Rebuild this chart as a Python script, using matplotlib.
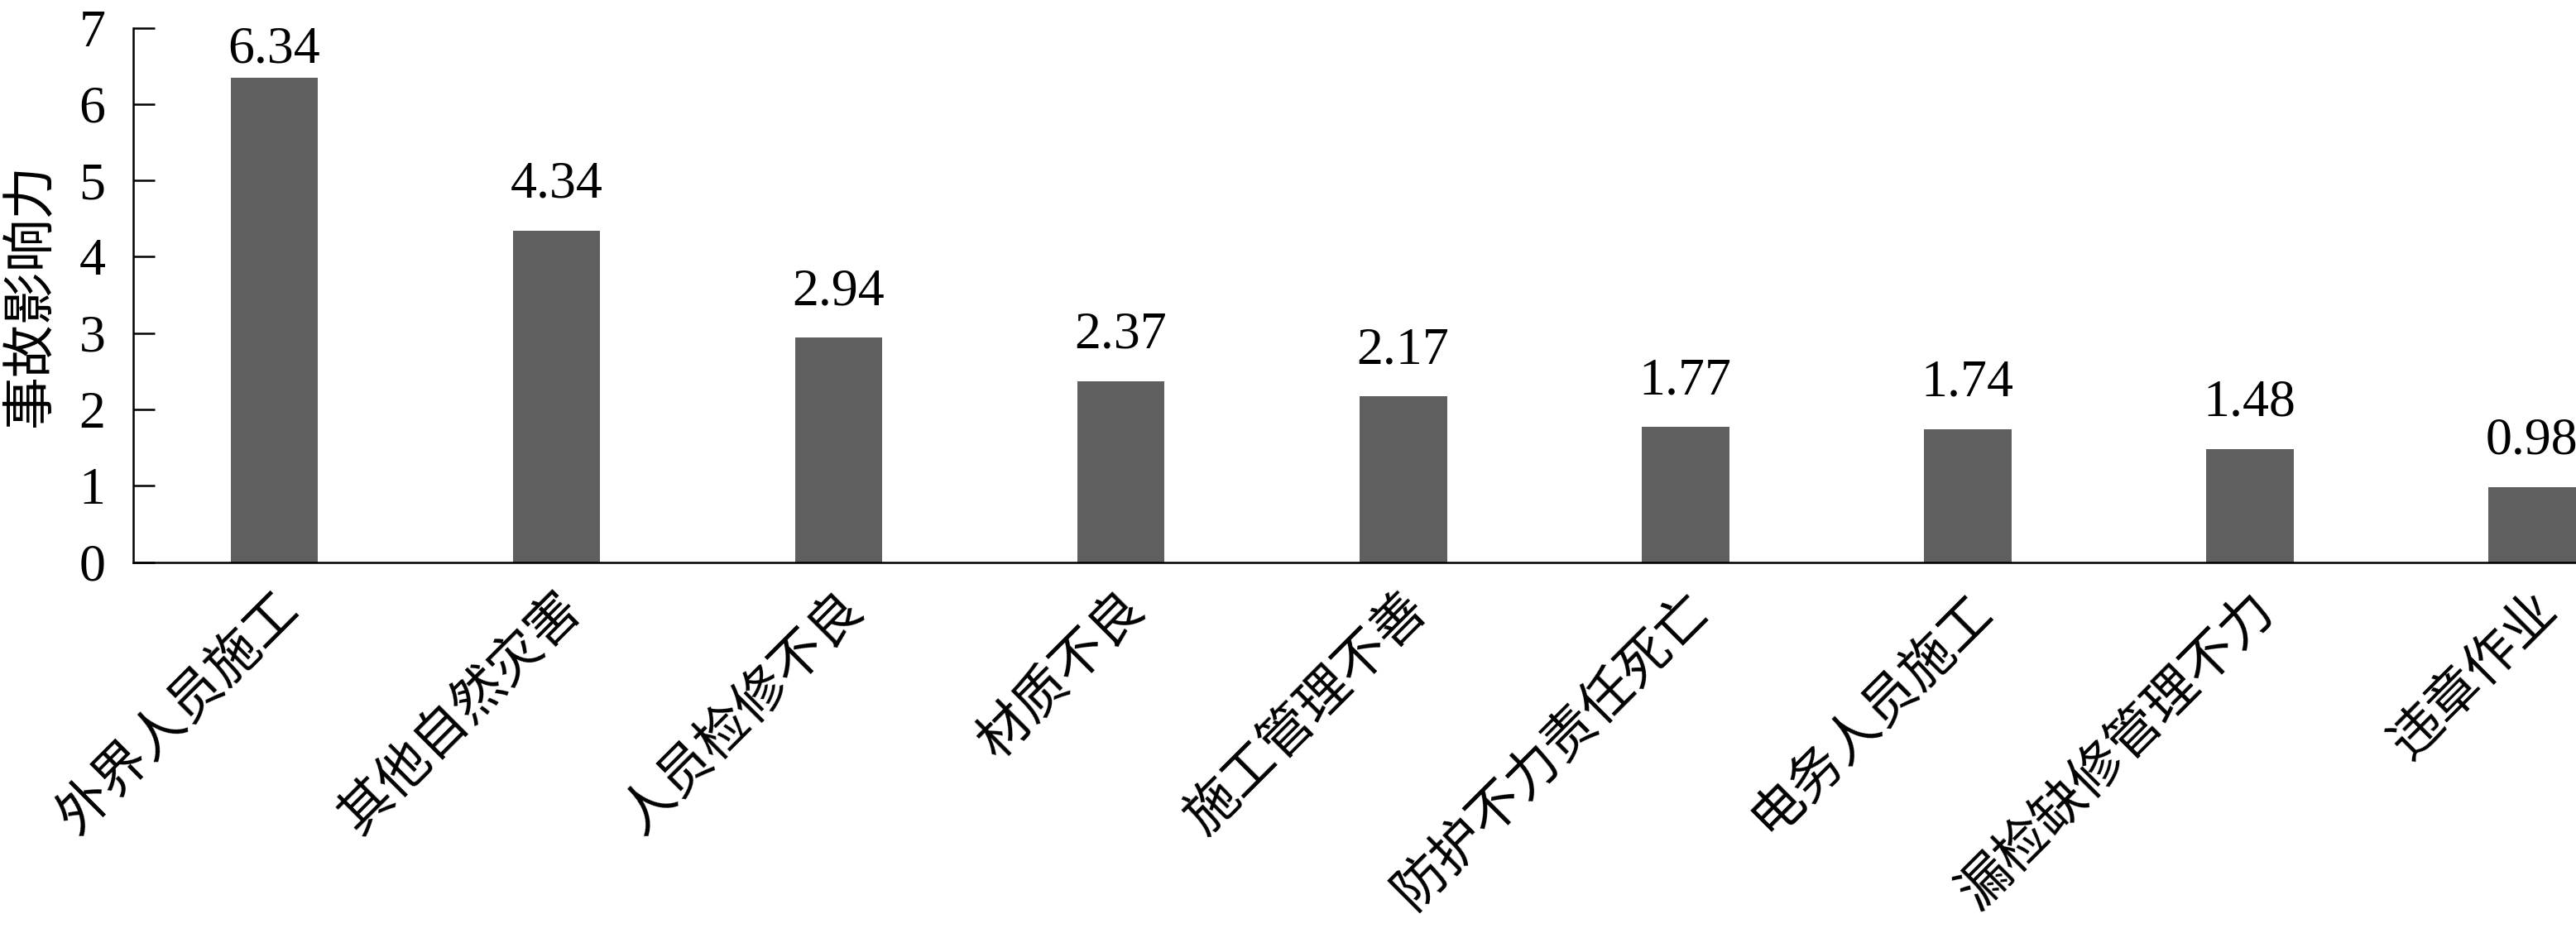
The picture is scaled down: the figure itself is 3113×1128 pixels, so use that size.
import numpy as np
import matplotlib.pyplot as plt

plt.rcParams['font.family'] = ['Liberation Serif', 'Noto Sans CJK SC', 'DejaVu Sans']

causes = ['外界人员施工', '其他自然灾害', '人员检修不良', '材质不良', '施工管理不善',
          '防护不力责任死亡', '电务人员施工', '漏检缺修管理不力', '违章作业']
influence = [6.34, 4.34, 2.94, 2.37, 2.17, 1.77, 1.74, 1.48, 0.98]
y_ticks = [0, 1, 2, 3, 4, 5, 6, 7]

fs = 46
fig = plt.figure(figsize=(31.13, 11.28), dpi=100)
# plot area runs past the right edge, like the source image
ax = fig.add_axes([0.0517, 0.3976, 0.986, 0.5727])

ind = np.arange(len(causes))
ax.bar(ind, influence, 0.31, color='#5f5f5f')

for i, v in enumerate(influence):
    # labels are kept inside the plot area
    ax.text(i, min(v + 0.435, 6.54), f'{v:.2f}', ha='center', va='baseline', fontsize=fs)

ax.set_xlim(-0.5, len(causes) - 0.5)
ax.set_ylim(0, 7)
ax.set_yticks(y_ticks)
ax.set_xticks(ind)
ax.set_xticklabels(causes, rotation=45, ha='right', va='top', rotation_mode='anchor')

ax.tick_params(axis='y', direction='in', length=19, width=1.8, pad=24, labelsize=fs)
ax.tick_params(axis='x', length=0, pad=20, labelsize=fs)

for s in ['top', 'right']:
    ax.spines[s].set_visible(False)
for s in ['left', 'bottom']:
    ax.spines[s].set_linewidth(1.8)

ax.set_ylabel('事故影响力', fontsize=fs)
ax.yaxis.set_label_coords(-0.0303, 0.5)

fig.savefig('out.png', dpi=100)
